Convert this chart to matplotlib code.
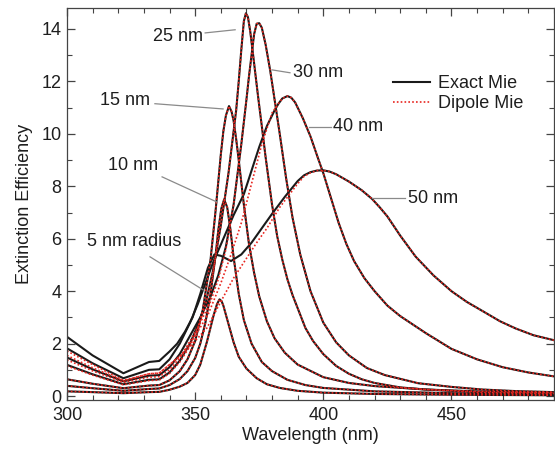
import matplotlib.pyplot as plt
from matplotlib.ticker import MultipleLocator

plt.rcParams["font.family"] = ["Liberation Sans", "DejaVu Sans"]

# --- data (wavelength in nm, extinction efficiency) ---
wl_5 = [300, 310, 322, 332, 336, 340, 344, 347, 350, 352, 354.6, 357.2, 358.5, 359.5,
        360.3, 361, 363, 365, 367, 370, 374, 378, 383, 390, 400, 420, 450, 490]
q_5 = [0.18, 0.15, 0.11, 0.15, 0.16, 0.24, 0.36, 0.5, 0.8, 1.2, 2.07, 3.08, 3.5, 3.69,
       3.62, 3.45, 2.75, 2.05, 1.5, 1.05, 0.68, 0.45, 0.31, 0.2, 0.13, 0.08, 0.05, 0.03]

wl_10 = [300, 310, 322, 332, 336, 340, 344, 347, 350, 352, 354, 356, 358, 359,
         360.2, 361.3, 362.5, 363.7, 365, 367, 369, 372, 376, 380, 386, 393, 400,
         420, 450, 490]
q_10 = [0.39, 0.30, 0.20, 0.27, 0.29, 0.42, 0.65, 0.95, 1.45, 2.0, 2.8, 3.9, 5.4, 6.3,
        7.15, 7.5, 7.2, 6.4, 5.3, 3.9, 2.9, 2.0, 1.3, 0.95, 0.62, 0.42, 0.31,
        0.18, 0.11, 0.07]

wl_15 = [300, 310, 322, 332, 336, 340, 344, 347, 350, 353, 356, 358, 360, 361, 362,
         363.2, 364.2, 365, 366, 367, 369, 371, 373, 375, 378, 381, 385, 390, 400, 410,
         420, 440, 460, 490]
q_15 = [0.64, 0.47, 0.30, 0.40, 0.42, 0.6, 0.95, 1.4, 2.1, 3.3, 5.2, 7.1, 9.2, 10.1, 10.7,
        11.06, 10.85, 10.5, 9.8, 9.0, 7.3, 5.8, 4.7, 3.8, 2.85, 2.2, 1.65, 1.2, 0.72, 0.5,
        0.38, 0.25, 0.18, 0.13]

wl_25 = [300, 310, 322, 332, 336, 340, 344, 348, 351, 354, 357, 360, 363, 366, 367, 368,
         369, 369.8, 370.6, 371.5, 372.5, 373.6, 374.7, 376, 377.5, 380, 382, 384, 386,
         388, 390, 393, 396, 400, 405, 410, 415, 420, 430, 440, 460, 490]
q_25 = [1.19, 0.83, 0.45, 0.62, 0.64, 0.9, 1.35, 2.0, 2.7, 3.5, 4.8, 6.5, 8.5, 10.9, 12.0, 13.2,
        14.3, 14.6, 14.45, 13.9, 13.1, 12.2, 11.3, 10.3, 9.1, 7.3, 6.1, 5.2, 4.45,
        3.85, 3.35, 2.6, 2.1, 1.6, 1.15, 0.85, 0.64, 0.5, 0.33, 0.25, 0.15, 0.1]
q_25_dip = [1.15, 0.80, 0.43, 0.59, 0.61, 0.86, 1.3, 1.9, 2.6, 3.45, 4.75, 6.5, 8.5, 10.9, 12.0, 13.2,
            14.3, 14.6, 14.45, 13.9, 13.1, 12.2, 11.3, 10.3, 9.1, 7.3, 6.1, 5.2, 4.45,
            3.85, 3.35, 2.6, 2.1, 1.6, 1.15, 0.85, 0.64, 0.5, 0.33, 0.25, 0.15, 0.1]

wl_30 = [300, 310, 322, 332, 336, 340, 344, 348, 352, 356, 359, 362, 365, 368, 370,
         371, 372, 373, 374, 375, 376, 377.5, 379.3, 381, 383, 385.5, 388, 391, 395,
         400, 405, 410, 417, 424, 437, 450, 462, 475, 490]
q_30 = [1.47, 1.02, 0.56, 0.78, 0.80, 1.1, 1.6, 2.3, 3.0, 3.8, 4.6, 5.7, 7.3, 9.6, 11.3,
        12.2, 13.0, 13.8, 14.2, 14.22, 14.05, 13.4, 12.4, 11.3, 10.0, 8.3, 6.8, 5.4, 4.0,
        2.8, 2.05, 1.55, 1.07, 0.8, 0.49, 0.35, 0.25, 0.19, 0.15]
q_30_dip = [1.38, 0.96, 0.52, 0.72, 0.74, 1.0, 1.45, 2.1, 2.8, 3.6, 4.45, 5.6, 7.3, 9.6, 11.3,
            12.2, 13.0, 13.8, 14.2, 14.22, 14.05, 13.4, 12.4, 11.3, 10.0, 8.3, 6.8, 5.4, 4.0,
            2.8, 2.05, 1.55, 1.07, 0.8, 0.49, 0.35, 0.25, 0.19, 0.15]

wl_40 = [300, 310, 322, 332, 336, 340, 344, 348, 351, 354, 357, 361, 365, 369, 372,
         375, 378, 381, 382.5, 384, 386, 387.5, 389, 392, 395, 398, 400, 403, 406, 409,
         412, 416, 420, 425, 430, 440, 450, 460, 470, 480, 490]
q_40 = [1.82, 1.25, 0.68, 1.0, 1.02, 1.4, 2.0, 2.8, 3.5, 4.3, 5.1, 6.0, 6.9, 7.7, 8.6,
        9.5, 10.3, 10.9, 11.15, 11.35, 11.44, 11.38, 11.2, 10.6, 9.9, 9.05, 8.5, 7.55, 6.6,
        5.8, 5.15, 4.5, 4.0, 3.45, 3.05, 2.4, 1.8, 1.4, 1.1, 0.9, 0.75]
wl_40_dip = [300, 310, 322, 332, 336, 340, 345, 350, 355, 360, 364, 368, 372, 376, 380,
             382.5, 384, 386, 387.5, 389, 392, 395, 398, 400, 403, 406, 409, 412, 416, 420,
             425, 430, 440, 450, 460, 470, 480, 490]
q_40_dip = [1.55, 1.08, 0.58, 0.85, 0.87, 1.2, 1.6, 2.3, 3.1, 4.3, 5.4, 6.6, 8.1, 9.6, 10.8,
            11.15, 11.35, 11.44, 11.38, 11.2, 10.6, 9.9, 9.05, 8.5, 7.55, 6.6, 5.8, 5.15, 4.5,
            4.0, 3.45, 3.05, 2.4, 1.8, 1.4, 1.1, 0.9, 0.75]

wl_50 = [300, 310, 322, 332, 336, 340, 343, 346, 349, 352, 355, 357.5, 360, 364, 368,
         372, 376, 380, 385, 390, 392.5, 395, 397.5, 400, 402.5, 405, 410, 415, 419, 422,
         425, 430, 436, 443, 450, 456, 462, 469, 475, 482, 490]
q_50 = [2.26, 1.55, 0.87, 1.30, 1.34, 1.7, 2.0, 2.45, 3.0, 3.9, 4.9, 5.4, 5.35, 5.15, 5.4,
        5.85, 6.4, 6.95, 7.6, 8.2, 8.42, 8.54, 8.6, 8.61, 8.56, 8.46, 8.18, 7.85, 7.52, 7.2,
        6.85, 6.12, 5.32, 4.6, 4.0, 3.59, 3.25, 2.85, 2.58, 2.32, 2.13]
wl_50_dip = [300, 310, 322, 332, 336, 340, 345, 350, 354.6, 360, 365, 370, 374, 378, 383,
             390, 392.5, 395, 397.5, 400, 402.5, 405, 410, 415, 419, 422, 425, 430, 436, 443,
             450, 456, 462, 469, 475, 482, 490]
q_50_dip = [1.72, 1.2, 0.6, 0.85, 0.88, 1.2, 1.6, 2.1, 2.6, 3.6, 4.5, 5.25, 5.85, 6.4, 7.2,
            8.1, 8.38, 8.52, 8.6, 8.61, 8.56, 8.46, 8.18, 7.85, 7.52, 7.2, 6.85, 6.12, 5.32, 4.6,
            4.0, 3.59, 3.25, 2.85, 2.58, 2.32, 2.13]

exact = [(wl_5, q_5), (wl_10, q_10), (wl_15, q_15), (wl_25, q_25),
         (wl_30, q_30), (wl_40, q_40), (wl_50, q_50)]
dipole = [(wl_5, q_5), (wl_10, q_10), (wl_15, q_15), (wl_25, q_25_dip),
          (wl_30, q_30_dip), (wl_40_dip, q_40_dip), (wl_50_dip, q_50_dip)]

# label text, text position, leader line (start, end) in data units
labels = [
    ("25 nm", (343.3, 13.70), (353.9, 13.85), (365.6, 13.97)),
    ("30 nm", (398.0, 12.33), (380.0, 12.44), (387.0, 12.33)),
    ("15 nm", (322.6, 11.26), (334.3, 11.15), (360.9, 10.95)),
    ("40 nm", (413.6, 10.27), (394.4, 10.27), (403.0, 10.27)),
    ("10 nm", (325.8, 8.78), (337.1, 8.36), (358.5, 7.40)),
    ("5 nm radius", (326.1, 5.88), (332.4, 5.31), (353.1, 4.05)),
    ("50 nm", (442.8, 7.52), (419.0, 7.56), (431.9, 7.56)),
]

text_color = "#1e1e1e"

fig = plt.figure(figsize=(5.55, 4.54), dpi=100)
ax = fig.add_axes([67 / 555, 1 - 400 / 454, 487 / 555, 392 / 454])

for i, (x, y) in enumerate(exact):
    ax.plot(x, y, color="#1a1a1a", lw=1.5, label="Exact Mie" if i == 0 else None)
for i, (x, y) in enumerate(dipole):
    ax.plot(x, y, color="#e8251f", lw=1.2, ls=(0, (1, 1.3)),
            label="Dipole Mie" if i == 0 else None)

for text, tpos, p0, p1 in labels:
    ax.plot([p0[0], p1[0]], [p0[1], p1[1]], color="#8a8a8a", lw=0.9)
    ax.text(tpos[0], tpos[1], text, ha="center", va="center",
            fontsize=13, color=text_color)

ax.set_xlim(300, 490)
ax.set_ylim(-0.15, 14.8)
ax.set_xticks([300, 350, 400, 450])
ax.set_yticks([0, 2, 4, 6, 8, 10, 12, 14])
ax.xaxis.set_minor_locator(MultipleLocator(10))
ax.yaxis.set_minor_locator(MultipleLocator(1))
ax.tick_params(which="both", direction="in", top=True, right=True,
               labelsize=13, labelcolor=text_color, color="#444444")
ax.tick_params(which="major", length=6, width=0.9)
ax.tick_params(which="minor", length=3.5, width=0.8)
ax.tick_params(axis="x", pad=5)
ax.tick_params(axis="y", pad=4)
for spine in ax.spines.values():
    spine.set_color("#444444")
    spine.set_linewidth(0.9)

ax.set_xlabel("Wavelength (nm)", fontsize=13, color=text_color, labelpad=2)
ax.set_ylabel("Extinction Efficiency", fontsize=13, color=text_color, labelpad=6)

ax.legend(loc="upper left", bbox_to_anchor=(0.669, 0.828), frameon=False,
          fontsize=13, handlelength=2.05, handletextpad=0.45, labelspacing=0.15,
          borderpad=0, borderaxespad=0, labelcolor=text_color)

fig.savefig("out.png", dpi=100)
